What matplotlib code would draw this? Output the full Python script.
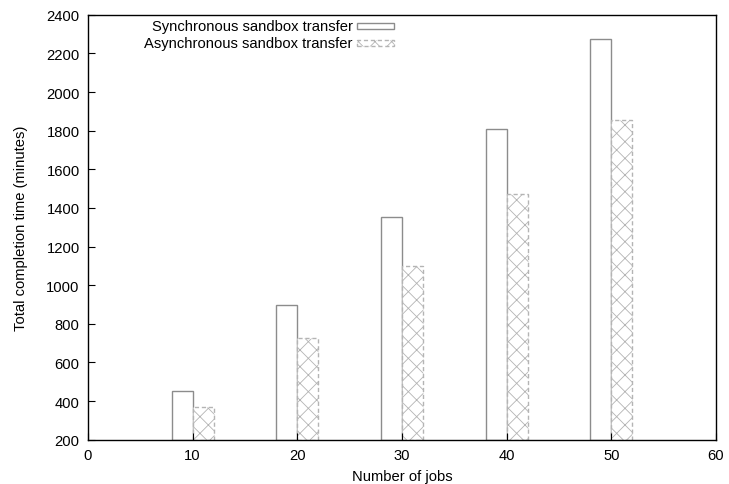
import matplotlib

matplotlib.use("Agg")
import matplotlib.pyplot as plt
from matplotlib.patches import Rectangle

plt.rcParams["font.family"] = ["Liberation Sans", "DejaVu Sans"]
plt.rcParams["hatch.linewidth"] = 0.6

# values
jobs = [10, 20, 30, 40, 50]
sync_minutes = [450, 900, 1355, 1810, 2275]
async_minutes = [370, 725, 1100, 1470, 1855]
sync_label = "Synchronous sandbox transfer"
async_label = "Asynchronous sandbox transfer"

BAR_W = 2.0
EDGE = "#8c8c8c"
HATCH_EDGE = "#b4b4b4"
FS = 10.6

fig = plt.figure(figsize=(7.29, 4.85), dpi=100)
ax = fig.add_axes([0.1207, 0.0913, 0.8613, 0.876])

ax.bar([j - BAR_W / 2 for j in jobs], [v - 200 for v in sync_minutes], bottom=200,
       width=BAR_W, facecolor="white", edgecolor=EDGE, linewidth=1.0)
ax.bar([j + BAR_W / 2 for j in jobs], [v - 200 for v in async_minutes], bottom=200,
       width=BAR_W, facecolor="white", edgecolor=HATCH_EDGE, linewidth=1.0,
       linestyle=(0, (3, 2)), hatch="xx")

ax.set_xlim(0, 60)
ax.set_ylim(200, 2400)
ax.set_xticks(range(0, 61, 10))
ax.set_yticks(range(200, 2401, 200))
ax.tick_params(direction="in", length=5, width=0.8, labelsize=FS, pad=6)
for s in ax.spines.values():
    s.set_linewidth(1.0)

ax.set_xlabel("Number of jobs", fontsize=FS, labelpad=5)
ax.set_ylabel("Total completion time (minutes)", fontsize=FS, labelpad=13)

# gnuplot style key: right-aligned text with sample box after it
key_x = 0.422
for i, (label, style) in enumerate([(sync_label, "sync"), (async_label, "async")]):
    y = 0.974 - 0.040 * i
    ax.text(key_x, y, label, transform=ax.transAxes, ha="right", va="center", fontsize=FS)
    if style == "sync":
        patch = Rectangle((key_x + 0.006, y - 0.008), 0.059, 0.016, transform=ax.transAxes,
                          facecolor="white", edgecolor=EDGE, linewidth=1.0)
    else:
        patch = Rectangle((key_x + 0.006, y - 0.008), 0.059, 0.016, transform=ax.transAxes,
                          facecolor="white", edgecolor=HATCH_EDGE, linewidth=1.0,
                          linestyle=(0, (3, 2)), hatch="xx")
    ax.add_patch(patch)

fig.savefig("out.png", dpi=100)
